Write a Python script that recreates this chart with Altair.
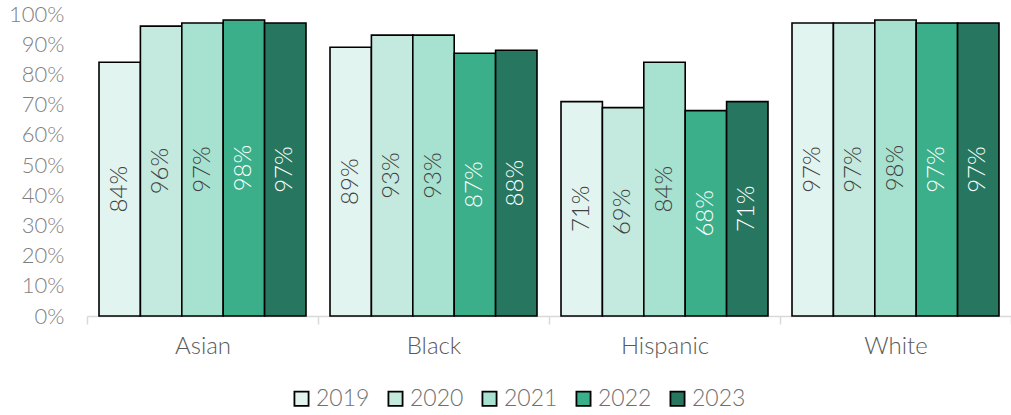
import altair as alt
import pandas as pd

groups = ["Asian", "Black", "Hispanic", "White"]
years = ["2019", "2020", "2021", "2022", "2023"]
values = {
    "Asian":    [0.84, 0.96, 0.97, 0.98, 0.97],
    "Black":    [0.89, 0.93, 0.93, 0.87, 0.88],
    "Hispanic": [0.71, 0.69, 0.84, 0.68, 0.71],
    "White":    [0.97, 0.97, 0.98, 0.97, 0.97],
}
y_ticks = [0.0, 0.1, 0.2, 0.3, 0.4, 0.5, 0.6, 0.7, 0.8, 0.9, 1.0]
colors = ["#E2F4EF", "#C4EADF", "#A7E2D0", "#3AAF8A", "#277760"]
text_colors = ["#404040", "#404040", "#404040", "#FFFFFF", "#FFFFFF"]

rows = []
for g in groups:
    for i, y in enumerate(years):
        rows.append({"group": g, "year": y, "value": values[g][i],
                     "mid": values[g][i] / 2, "tcolor": text_colors[i]})
df = pd.DataFrame(rows)

FONT = "Lato"

x = alt.X("group:N", sort=groups, title=None,
          scale=alt.Scale(paddingInner=0, paddingOuter=0),
          axis=alt.Axis(labelAngle=0, labelFontSize=24, labelColor="#595959",
                        labelFont=FONT, labelFontWeight=300, labelPadding=10,
                        domainColor="#D9D9D9", domainWidth=1.5,
                        tickColor="#D9D9D9", tickSize=8, tickWidth=1.5,
                        tickBand="extent", grid=False))
xo = alt.XOffset("year:N", sort=years,
                 scale=alt.Scale(paddingInner=0, paddingOuter=0.29))

yscale = alt.Scale(domain=[0, 1], nice=False)
yaxis = alt.Axis(format=".0%", values=y_ticks,
                 labelFontSize=22, labelColor="#7F7F7F",
                 labelFont=FONT, labelFontWeight=300,
                 labelOverlap=False, labelBound=False,
                 domain=False, ticks=False, grid=False,
                 labelPadding=23)

base = alt.Chart(df)

bars = base.mark_bar(stroke="black", strokeWidth=1.6).encode(
    x=x,
    xOffset=xo,
    y=alt.Y("value:Q", title=None, scale=yscale, axis=yaxis),
    color=alt.Color("year:N", sort=years,
                    scale=alt.Scale(domain=years, range=colors),
                    legend=alt.Legend(title=None, orient="none",
                                      direction="horizontal",
                                      legendX=203, legendY=373,
                                      symbolType="square", symbolSize=200,
                                      symbolStrokeColor="black",
                                      symbolStrokeWidth=1.8,
                                      labelFontSize=23, labelColor="#6F6F6F",
                                      labelFont=FONT, labelFontWeight=300,
                                      labelOffset=3, columnPadding=14)),
)

labels = base.mark_text(
    angle=270, fontSize=24, font=FONT, fontWeight=300, baseline="middle",
    align="center"
).encode(
    x=x,
    xOffset=xo,
    y=alt.Y("mid:Q", title=None, scale=yscale, axis=yaxis),
    text=alt.Text("value:Q", format=".0%"),
    color=alt.Color("tcolor:N", scale=None),
)

chart = alt.layer(bars, labels).properties(
    width=924, height=302,
    autosize=alt.AutoSizeParams(type="none"),
    padding={"left": 87, "top": 14, "right": 0, "bottom": 99},
    view=alt.ViewBackground(strokeWidth=0),
).configure_view(strokeWidth=0).configure_axisY(
    domain=False, grid=False, ticks=False
).configure_axisX(grid=False).configure(background="white")

chart.save("out.html", embed_options={"renderer": "svg", "actions": False})
